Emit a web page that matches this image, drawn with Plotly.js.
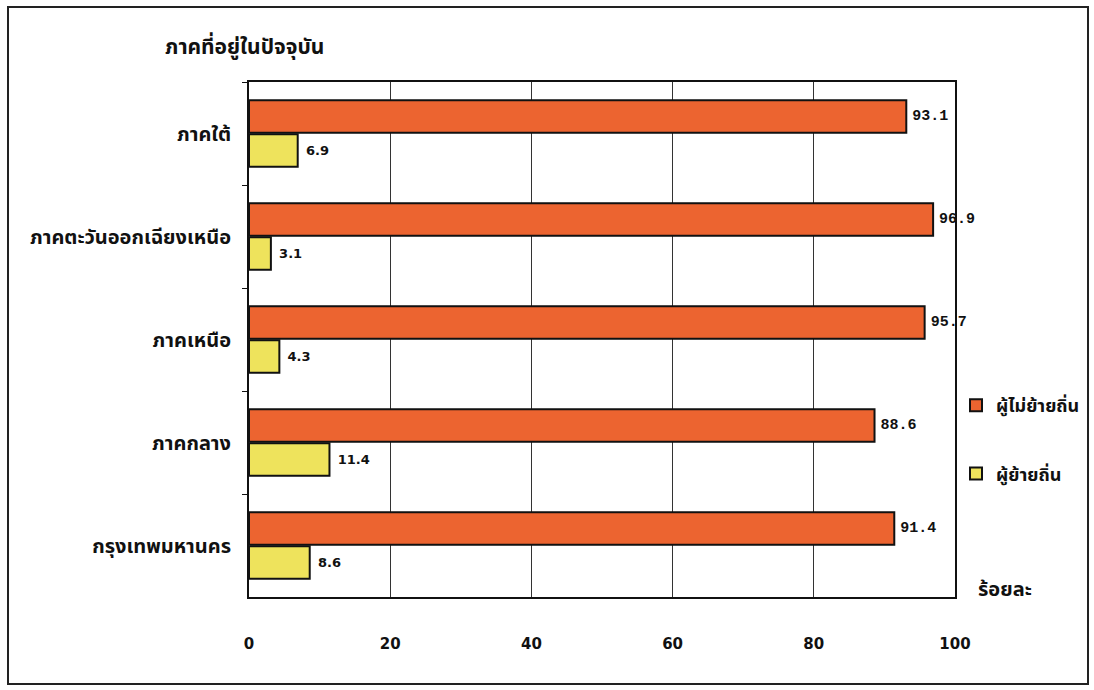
<!DOCTYPE html>
<html>
<head>
<meta charset="utf-8">
<script src="https://cdn.plot.ly/plotly-3.0.1.min.js"></script>
<style>
html,body{margin:0;padding:0;background:#fff;}
#chart{width:1094px;height:690px;}
</style>
</head>
<body>
<div id="chart"></div>
<script>
// Data
var regions = ["ภาคใต้", "ภาคตะวันออกเฉียงเหนือ", "ภาคเหนือ", "ภาคกลาง", "กรุงเทพมหานคร"];
var nonMigrants = [93.1, 96.9, 95.7, 88.6, 91.4];
var migrants = [6.9, 3.1, 4.3, 11.4, 8.6];
var seriesNames = ["ผู้ไม่ย้ายถิ่น", "ผู้ย้ายถิ่น"];
var xTicks = [0, 20, 40, 60, 80, 100];
var chartTitle = "ภาคที่อยู่ในปัจจุบัน";
var unitLabel = "ร้อยละ";

var thaiFont = '"Noto Sans Thai", "Noto Sans", "DejaVu Sans", sans-serif';

var traces = [
  {
    type: "bar", orientation: "h", name: seriesNames[0], legendgroup: "a",
    y: regions, x: nonMigrants,
    marker: {color: "#EC6430", line: {color: "#111", width: 2}},
    texttemplate: "\u2009%{x:.1f}",
    textposition: "outside", cliponaxis: false,
    textfont: {family: '"Liberation Mono", "DejaVu Sans Mono", monospace', size: 15, color: "#111", weight: 700},
    hoverinfo: "x+y"
  },
  {
    type: "bar", orientation: "h", name: seriesNames[1], legendgroup: "b",
    y: regions, x: migrants,
    marker: {color: "#EEE35C", line: {color: "#111", width: 2}},
    texttemplate: "\u2009\u2009%{x:.1f}",
    textposition: "outside", cliponaxis: false,
    textfont: {family: '"DejaVu Sans", sans-serif', size: 13, color: "#111", weight: 700},
    hoverinfo: "x+y"
  }
];

var L = 249, R = 1094 - 955, T = 82, B = 690 - 597;
var W = 1094 - L - R, H = 690 - T - B;
function px(x){ return (x - L) / W; }
function py(y){ return (690 - B - y) / H; }

var layout = {
  width: 1094, height: 690,
  margin: {l: L, r: R, t: T, b: B, pad: 0, autoexpand: false},
  paper_bgcolor: "#fff", plot_bgcolor: "#fff",
  barmode: "group", bargap: 0.34, bargroupgap: 0.05,
  showlegend: true,
  legend: {
    x: px(956), y: py(387), xanchor: "left", yanchor: "top",
    font: {family: thaiFont, size: 18, color: "#111", weight: 700},
    tracegroupgap: 42, traceorder: "grouped",
    bgcolor: "rgba(0,0,0,0)", itemwidth: 30
  },
  xaxis: {
    range: [0, 100], tickvals: xTicks, ticktext: xTicks.map(String),
    showgrid: true, gridcolor: "#333", gridwidth: 1,
    showline: true, linecolor: "#111", linewidth: 2, mirror: true,
    zeroline: false, ticks: "", ticklabelstandoff: 32,
    tickfont: {family: '"DejaVu Sans", sans-serif', size: 15, color: "#111", weight: 700}
  },
  yaxis: {
    type: "category", autorange: "reversed",
    showline: true, linecolor: "#111", linewidth: 2, mirror: true,
    showgrid: false, ticks: "outside", tickson: "boundaries", ticklen: 5, tickcolor: "#111",
    ticklabelstandoff: 12,
    tickfont: {family: thaiFont, size: 20, color: "#111", weight: 700}
  },
  annotations: [
    {text: chartTitle, xref: "paper", yref: "paper", x: px(163), y: py(47),
     xanchor: "left", yanchor: "middle", showarrow: false,
     font: {family: thaiFont, size: 21, color: "#111", weight: 700}},
    {text: unitLabel, xref: "paper", yref: "paper", x: px(976), y: py(590),
     xanchor: "left", yanchor: "middle", showarrow: false,
     font: {family: thaiFont, size: 20, color: "#111", weight: 700}}
  ],
  shapes: [
    {type: "rect", xref: "paper", yref: "paper",
     x0: px(8), x1: px(1088), y0: py(684), y1: py(7),
     line: {color: "#222", width: 2}, fillcolor: "rgba(0,0,0,0)", layer: "below"}
  ]
};

Plotly.newPlot("chart", traces, layout, {displayModeBar: false, staticPlot: true});
</script>
</body>
</html>
